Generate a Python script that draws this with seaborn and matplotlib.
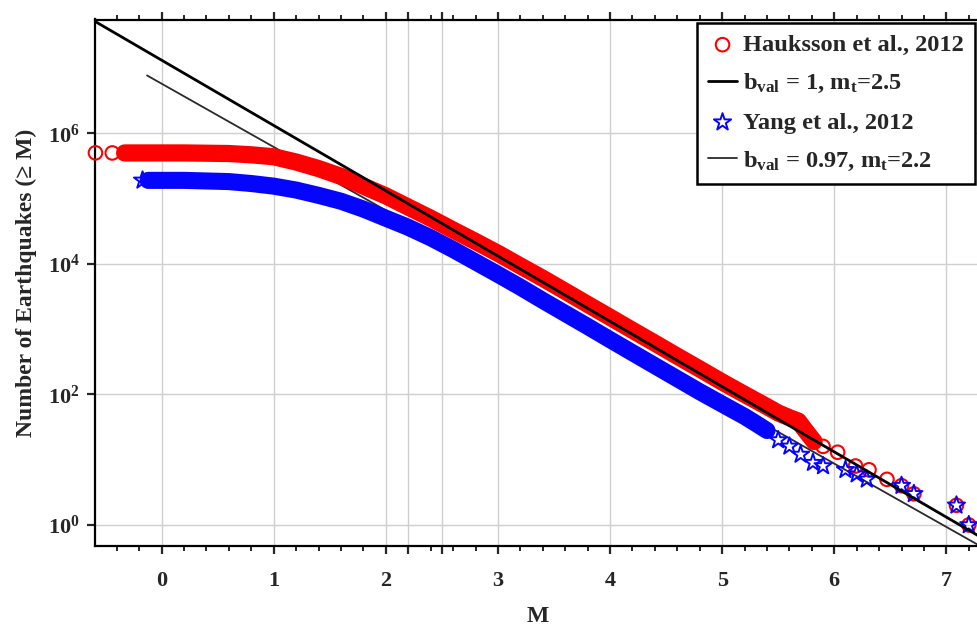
import numpy as np
import pandas as pd
import matplotlib
matplotlib.use("Agg")
import matplotlib.pyplot as plt
from matplotlib.ticker import MultipleLocator, NullLocator
import seaborn as sns

# ---------------- data ----------------
hauksson_M = [-0.59, -0.44, -0.33, -0.2, 0.0, 0.2, 0.4, 0.6, 0.8, 1.0, 1.2, 1.4, 1.6,
              1.8, 2.0, 2.2, 2.4, 2.6, 2.8, 3.0, 3.2, 3.4, 3.6, 3.8, 4.0, 4.2, 4.4,
              4.6, 4.8, 5.0, 5.2, 5.4, 5.5, 5.6, 5.68, 5.75, 5.82,
              5.9, 6.03, 6.19, 6.31, 6.47, 6.6, 6.71, 7.09, 7.2]
hauksson_N = [502000, 500000, 500000, 500000, 500000, 500000, 495000, 490000, 468000,
              437000, 363000, 288000, 219000, 155000, 110000, 74000, 50000, 33000,
              22000, 14500, 9300, 6000, 3800, 2400, 1520, 960, 610, 385, 245, 155,
              100, 65, 52, 44, 39, 27, 19,
              16, 13, 8, 7, 5, 4, 3, 2, 1]

yang_M = [-0.17, -0.12, 0.0, 0.2, 0.4, 0.6, 0.8, 1.0, 1.2, 1.4, 1.6, 1.8, 2.0, 2.2,
          2.4, 2.6, 2.8, 3.0, 3.2, 3.4, 3.6, 3.8, 4.0, 4.2, 4.4, 4.6, 4.8, 5.0, 5.2,
          5.3, 5.4, 5.5, 5.6, 5.7, 5.81, 5.9, 6.1, 6.2, 6.29, 6.6, 6.71, 7.09, 7.2]
yang_N = [190000, 190000, 190000, 190000, 186000, 182000, 170000, 155000, 135000,
          112000, 91000, 69000, 50000, 36300, 25100, 16600, 10700, 6900, 4400, 2750,
          1740, 1100, 690, 435, 275, 174, 110, 71, 46, 36, 28,
          20, 16, 12, 9, 8, 7, 6, 5, 4, 3, 2, 1]

# Gutenberg-Richter fits: log10 N = a - b*M
gr_labels = [r"b$_{\mathrm{val}}$ = 1, m$_{\mathrm{t}}$=2.5",
             r"b$_{\mathrm{val}}$ = 0.97, m$_{\mathrm{t}}$=2.2"]
gr_a = [7.12, 6.76]
gr_b = [1.0, 0.97]
gr_M_start = [-0.7, -0.13]
gr_M_end = [7.35, 7.35]

x_ticks = [0, 1, 2, 2.2, 2.5, 3, 4, 5, 6, 7]
x_ticklabels = ["0", "1", "2", "", "", "3", "4", "5", "6", "7"]
y_ticks = [1, 1e2, 1e4, 1e6]
y_ticklabels = [r"$\mathbf{10^{0}}$", r"$\mathbf{10^{2}}$", r"$\mathbf{10^{4}}$", r"$\mathbf{10^{6}}$"]

# ---------------- style ----------------
sns.set_style("ticks")
plt.rcParams["font.family"] = ["Liberation Serif", "DejaVu Serif"]
plt.rcParams["font.weight"] = "bold"
plt.rcParams["mathtext.fontset"] = "custom"
plt.rcParams["mathtext.rm"] = "Liberation Serif:bold"
plt.rcParams["mathtext.it"] = "Liberation Serif:bold"
plt.rcParams["mathtext.bf"] = "Liberation Serif:bold"

RED = "#ff0000"
BLUE = "#0505ff"

fig = plt.figure(figsize=(9.78, 6.28), dpi=100)
ax = fig.add_axes([95 / 978, 82 / 628, 885 / 978, 526.5 / 628])

h = pd.DataFrame({"M": hauksson_M, "N": hauksson_N})
y = pd.DataFrame({"M": yang_M, "N": yang_N})

gr = []
for lab, a, b, m0, m1 in zip(gr_labels, gr_a, gr_b, gr_M_start, gr_M_end):
    mm = np.array([m0, m1])
    gr.append(pd.DataFrame({"M": mm, "N": 10 ** (a - b * mm)}))

# thin fit line (below the data bands)
sns.lineplot(data=gr[1], x="M", y="N", color="#2a2a2a", lw=1.3, ax=ax,
             estimator=None, sort=False, label=gr_labels[1], zorder=2)

# dense bands
hb = h[(h.M >= -0.35) & (h.M <= 5.85)]
yb = y[(y.M >= -0.13) & (y.M <= 5.45)]
sns.lineplot(data=yb, x="M", y="N", color=BLUE, lw=12.3, ax=ax, estimator=None,
             sort=False, legend=False, solid_capstyle="round", zorder=3)
sns.lineplot(data=hb, x="M", y="N", color=RED, lw=12.4, ax=ax, estimator=None,
             sort=False, legend=False, solid_capstyle="round", zorder=3)

# markers (isolated points outside the dense bands)
hs = h[(h.M < -0.35) | (h.M > 5.85)]
ys = y[(y.M < -0.13) | (y.M > 5.45)]
sns.scatterplot(data=hs, x="M", y="N", marker="o", s=95, facecolors="none",
                edgecolor=RED, linewidth=1.5, ax=ax, label="Hauksson et al., 2012",
                zorder=4, clip_on=False)
sns.scatterplot(data=ys, x="M", y="N", marker="*", s=170, facecolors="none",
                edgecolor=BLUE, linewidth=1.4, ax=ax, label="Yang et al., 2012",
                zorder=5)

# thick fit line on top
sns.lineplot(data=gr[0], x="M", y="N", color="black", lw=2.0, ax=ax,
             estimator=None, sort=False, label=gr_labels[0], zorder=6)

# ---------------- axes ----------------
ax.set_yscale("log")
ax.set_xlim(-0.594, 7.30)
ax.set_ylim(10 ** -0.322, 10 ** 7.743)
ax.set_xticks(x_ticks, labels=x_ticklabels)
ax.xaxis.set_minor_locator(MultipleLocator(0.2))
ax.set_yticks(y_ticks, labels=y_ticklabels)
ax.yaxis.set_minor_locator(NullLocator())
ax.grid(True, which="major", color="#cfcfcf", lw=1.0)
ax.set_axisbelow(True)

for sp in ax.spines.values():
    sp.set_linewidth(1.6)
    sp.set_color("black")
    sp.set_visible(True)

ax.tick_params(axis="x", which="major", direction="out", length=6, width=1.6,
               top=True, labelsize=16, pad=12)
ax.tick_params(axis="x", which="minor", direction="out", length=3.5, width=1.4, top=True)
ax.tick_params(axis="y", which="major", direction="out", length=6, width=1.6,
               labelsize=16, pad=5)

ax.set_xlabel("M", fontsize=17, fontweight="bold", labelpad=11)
ax.set_ylabel("Number of Earthquakes (\u2265 M)", fontsize=17, fontweight="bold", labelpad=8)

# ---------------- legend ----------------
handles, labels = ax.get_legend_handles_labels()
order = ["Hauksson et al., 2012", gr_labels[0], "Yang et al., 2012", gr_labels[1]]
hd = dict(zip(labels, handles))
leg = ax.legend([hd[k] for k in order], order, loc="upper right",
                bbox_to_anchor=(0.9944, 0.9934), borderaxespad=0,
                fontsize=17.6, frameon=True, fancybox=False, framealpha=1,
                handlelength=1.2, handletextpad=0.25, borderpad=0.45,
                labelspacing=0.66)
leg.get_frame().set_edgecolor("black")
leg.get_frame().set_linewidth(1.8)

fig.savefig("out.png", dpi=100)
